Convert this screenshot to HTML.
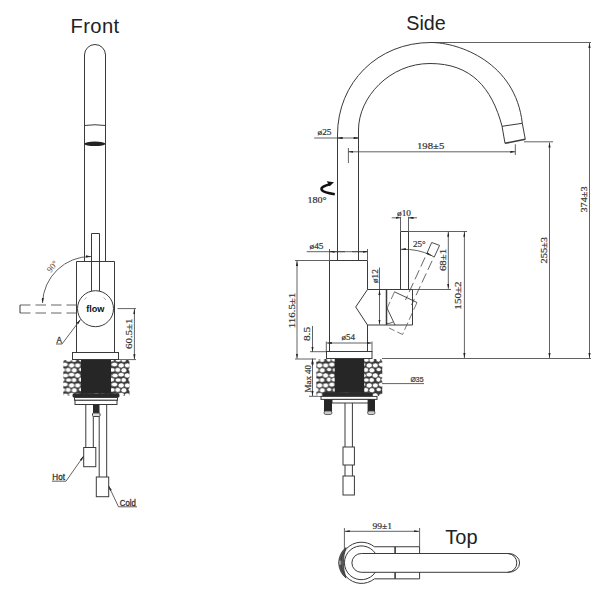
<!DOCTYPE html>
<html><head><meta charset="utf-8">
<style>
html,body{margin:0;padding:0;background:#fff;width:614px;height:600px;overflow:hidden}
svg{position:absolute;left:0;top:0;display:block}
.t{font-family:"Liberation Sans",sans-serif;fill:#222}
.d{font-family:"Liberation Serif",serif;fill:#3a3a3a;font-size:9.2px;letter-spacing:0.4px}
.s{font-family:"Liberation Sans",sans-serif;fill:#333;font-size:8.3px}
</style></head><body>
<svg width="614" height="600" viewBox="0 0 614 600">
<defs>
<pattern id="stone" patternUnits="userSpaceOnUse" width="24.8" height="20.0" x="0" y="0">
<rect width="24.8" height="20.0" fill="#3a3a3a"/>
<g fill="#fff" stroke="#2a2a2a" stroke-width="0.5">
<ellipse cx="-0.3" cy="0.0" rx="2.7" ry="2.3"/>
<ellipse cx="-0.3" cy="20.0" rx="2.7" ry="2.3"/>
<ellipse cx="24.5" cy="0.0" rx="2.7" ry="2.3"/>
<ellipse cx="24.5" cy="20.0" rx="2.7" ry="2.3"/>
<ellipse cx="6.4" cy="-0.4" rx="2.4" ry="2.4"/>
<ellipse cx="6.4" cy="19.6" rx="2.4" ry="2.4"/>
<ellipse cx="12.1" cy="-0.3" rx="3.2" ry="2.2"/>
<ellipse cx="12.1" cy="19.7" rx="3.2" ry="2.2"/>
<ellipse cx="19.0" cy="-0.0" rx="2.9" ry="2.0"/>
<ellipse cx="19.0" cy="20.0" rx="2.9" ry="2.0"/>
<ellipse cx="3.3" cy="5.4" rx="2.8" ry="2.3"/>
<ellipse cx="28.1" cy="5.4" rx="2.8" ry="2.3"/>
<ellipse cx="9.5" cy="4.6" rx="3.0" ry="2.3"/>
<ellipse cx="15.3" cy="4.5" rx="3.1" ry="2.2"/>
<ellipse cx="-2.8" cy="5.4" rx="3.0" ry="2.5"/>
<ellipse cx="22.0" cy="5.4" rx="3.0" ry="2.5"/>
<ellipse cx="-0.1" cy="10.3" rx="2.8" ry="2.5"/>
<ellipse cx="24.7" cy="10.3" rx="2.8" ry="2.5"/>
<ellipse cx="6.7" cy="9.6" rx="2.5" ry="2.0"/>
<ellipse cx="13.0" cy="9.9" rx="2.9" ry="2.1"/>
<ellipse cx="18.6" cy="9.9" rx="2.7" ry="2.3"/>
<ellipse cx="3.2" cy="15.4" rx="2.9" ry="2.5"/>
<ellipse cx="28.0" cy="15.4" rx="2.9" ry="2.5"/>
<ellipse cx="9.7" cy="15.5" rx="2.9" ry="2.0"/>
<ellipse cx="15.9" cy="15.5" rx="3.1" ry="2.2"/>
<ellipse cx="-2.8" cy="14.7" rx="3.1" ry="2.2"/>
<ellipse cx="22.0" cy="14.7" rx="3.1" ry="2.2"/>
</g>
</pattern>
<marker id="ar" viewBox="0 0 5 2.2" refX="5" refY="1.1" markerWidth="5" markerHeight="2.2" orient="auto-start-reverse" markerUnits="userSpaceOnUse"><path d="M0,0 L5,1.1 L0,2.2 z" fill="#222"/></marker>
</defs>

<g fill="none" stroke="#3a3a3a" stroke-width="1">
<!-- ================= FRONT ================= -->
<!-- spout tube -->
<path d="M84.5,261.5 V55 A10.5,10.5 0 0 1 105.5,55 V261.5"/>
<path d="M84.5,125.5 Q95,124 105.5,125.5"/>
<ellipse cx="94.85" cy="143.8" rx="10.5" ry="2.3" fill="#222" stroke="none"/>
<!-- lever -->
<path d="M91.5,291.5 V233.5 H99.5 V291.5"/>
<!-- body -->
<path d="M76.5,352.5 V261.5 H114.5 V352.5"/>
<circle cx="95.5" cy="308.7" r="18" fill="#fff"/>
<!-- dashed lever -->
<path d="M20,305 H76.5 M20,313 H76.5" stroke-dasharray="10.5 5" stroke="#666"/>
<path d="M20,305 V313"/>
<!-- 90 arc -->
<path d="M42.5,303 A48,48 0 0 1 91,256.5" stroke-width="0.8" marker-start="url(#ar)" marker-end="url(#ar)"/>
<!-- A leader -->
<path d="M56,344 H62 L80.5,319.5" stroke-width="0.8" marker-end="url(#ar)"/>
<!-- 60.5 dim -->
<path d="M117.5,308.6 H136 M119,359.6 H136" stroke-width="0.8"/>
<path d="M134.4,309 V359.2" stroke-width="0.8" marker-start="url(#ar)" marker-end="url(#ar)"/>
<!-- base plate -->
<rect x="72.5" y="352.5" width="46" height="7" fill="#fff"/>
<!-- stone -->
<rect x="63.3" y="360" width="66.2" height="36" fill="url(#stone)" stroke="none"/>
<rect x="81" y="360" width="30" height="33.5" fill="#262626" stroke="none"/>
<!-- washer -->
<rect x="72.5" y="393.5" width="47" height="4" rx="1.5" fill="#2a2a2a" stroke="none"/>
<rect x="74.5" y="397.5" width="43" height="2.8" fill="#fff"/>
<rect x="75" y="400.3" width="42" height="4.2" fill="#fff"/>
<!-- rod -->
<rect x="93" y="404.5" width="6.5" height="9" fill="#2a2a2a" stroke="none"/>
<rect x="92.5" y="413" width="7.5" height="3.5" rx="1" fill="#ddd" stroke="#444"/>
<!-- pipes -->
<path d="M85.8,404.5 V447.5 M93.3,416.5 V447.5 M99.2,416.5 V477 M106.7,404.5 V477"/>
<rect x="83.7" y="447.5" width="12.1" height="19.2" fill="#fff"/>
<rect x="96.3" y="477" width="12.4" height="19.7" fill="#fff"/>
<!-- hot / cold leaders -->
<path d="M52,481.2 H66 L83.7,456" stroke-width="0.8" marker-end="url(#ar)"/>
<path d="M137,506.8 H118.5 L108.7,486" stroke-width="0.8" marker-end="url(#ar)"/>

<!-- ================= SIDE ================= -->
<!-- spout -->
<path d="M337.5,260.5 V135 C337.5,82.4 377.7,42.5 431,42.5 C458.9,42.5 515.4,62.2 522.3,123.3 L525.3,139.3"/>
<path d="M358.5,260.5 V130 C358.5,97.4 389.4,63.5 430,63.5 C471.3,63.5 491.7,87.8 502,126 L505,143.3"/>
<path d="M502,126.3 L522.3,123.3"/>
<path d="M505,143.3 L525.3,139.3" stroke-width="1.6"/>
<!-- top ext + 374 -->
<path d="M431,42.5 H591" stroke-width="0.8"/>
<path d="M589.5,43 V358" stroke-width="0.8" marker-start="url(#ar)" marker-end="url(#ar)"/>
<!-- 255 -->
<path d="M524,141.8 H553" stroke-width="0.8"/>
<path d="M549.5,142.5 V358" stroke-width="0.8" marker-start="url(#ar)" marker-end="url(#ar)"/>
<!-- 198 -->
<path d="M348.4,148 V163 M515.3,144.3 V155" stroke-width="0.8"/>
<path d="M348.4,151.8 H515.3" stroke-width="0.8" marker-start="url(#ar)" marker-end="url(#ar)"/>
<!-- o25 -->
<path d="M314.2,138 H358.5" stroke-width="0.8"/>
<path d="M343,138 H337.5" stroke-width="0.8" marker-end="url(#ar)"/><path d="M353,138 H358.5" stroke-width="0.8" marker-end="url(#ar)"/>
<!-- body -->
<path d="M329.5,351.5 V260.5 H367.5 V289.5 L355.7,307 L367.5,325 V351.5"/>
<!-- o45 -->
<path d="M329.5,249 V260 M367.5,249 V260" stroke-width="0.8"/>
<path d="M306.7,251.7 H367.5" stroke-width="0.8"/>
<path d="M345,251.7 H329.5" stroke-width="0.8" marker-end="url(#ar)"/><path d="M352,251.7 H367.5" stroke-width="0.8" marker-end="url(#ar)"/>
<!-- lever -->
<path d="M400.5,289.5 V231.5 H408.5 V289.5"/>
<!-- o10 -->
<path d="M400.5,216.8 V231 M408.5,216.8 V231" stroke-width="0.8"/>
<path d="M391.7,217.8 H400.5" stroke-width="0.8" marker-end="url(#ar)"/><path d="M417,217.8 H408.5" stroke-width="0.8" marker-end="url(#ar)"/>
<!-- 68 / 150 -->
<path d="M408.5,231.5 H467 M412.5,289.5 H451" stroke-width="0.8"/>
<path d="M448.3,231.8 V288.8" stroke-width="0.8" marker-start="url(#ar)" marker-end="url(#ar)"/>
<path d="M464.4,231.8 V358" stroke-width="0.8" marker-start="url(#ar)" marker-end="url(#ar)"/>
<!-- 25 deg arc -->
<path d="M400.8,249.3 Q419,248.8 431,255.5" stroke-width="0.8" marker-start="url(#ar)" marker-end="url(#ar)"/>
<!-- tilted lever -->
<path d="M427.1,252.9 L431.7,242.5 L439.6,245.4 L434.2,257.1 Z" stroke-width="0.9"/>
<path d="M425,257.5 L405.5,300 M432.1,260.8 L411.5,305" stroke-dasharray="10 4" stroke-width="0.9" stroke="#555"/>
<!-- handle housing -->
<path d="M367.5,289.5 H412.5 V325 H367.5"/>
<path d="M386.5,289.5 V325" stroke-width="1.5"/>
<path d="M379.5,290 V324.5" stroke-width="0.8" marker-start="url(#ar)" marker-end="url(#ar)"/>
<path d="M379.5,267.5 V289.5" stroke-width="0.8"/>
<path d="M386.5,307 L395,325 M394.5,291.8 L417,302.5" stroke-width="0.9"/>
<path d="M417,302.5 L402.5,334.5 L389,328 M394.5,291.8 L386.5,309.5" stroke-width="0.8" stroke-dasharray="8 3" stroke="#555"/>
<path d="M386.5,323.5 Q390,323.8 393,322" stroke-width="0.8"/>
<!-- o54 -->
<path d="M326.3,341.5 V351.7 M372,341.5 V351.7" stroke-width="0.8"/>
<path d="M326.8,343 H371.5" stroke-width="0.8" marker-start="url(#ar)" marker-end="url(#ar)"/>
<!-- 116.5 -->
<path d="M295,260.5 H329.5 M295,359 H316" stroke-width="0.8"/>
<path d="M297,261 V358.6" stroke-width="0.8" marker-start="url(#ar)" marker-end="url(#ar)"/>
<!-- 8.5 -->
<path d="M310,351.7 H326.3" stroke-width="0.8"/>
<path d="M312.5,326 V351.7" stroke-width="0.8" marker-end="url(#ar)"/><path d="M312.5,366 V358.6" stroke-width="0.8" marker-end="url(#ar)"/>
<!-- max 40 -->
<path d="M312.5,359.5 V396" stroke-width="0.8" marker-start="url(#ar)" marker-end="url(#ar)"/>
<path d="M309,396.3 H321" stroke-width="0.8"/>
<!-- base plate -->
<rect x="326.5" y="351.5" width="45.5" height="7" fill="#fff"/>
<!-- ground line -->
<path d="M382,358.5 H591" stroke-width="0.8"/>
<!-- stone -->
<rect x="316.3" y="359" width="66" height="37" fill="url(#stone)" stroke="none"/>
<rect x="334.7" y="359" width="29.5" height="33.5" fill="#262626" stroke="none"/>
<rect x="322.5" y="392.5" width="50" height="4.2" rx="1.5" fill="#2a2a2a" stroke="none"/>
<rect x="321" y="396.4" width="56" height="3" fill="#fff"/>
<rect x="332" y="399.4" width="38" height="3.6" fill="#fff"/>
<!-- bolts -->
<rect x="324" y="399.4" width="8" height="13" fill="#262626" stroke="none"/>
<rect x="367.6" y="399.4" width="7.4" height="13" fill="#262626" stroke="none"/>
<rect x="324" y="411" width="8" height="3.5" rx="1.7" fill="#ccc" stroke="#444" stroke-width="0.8"/>
<rect x="367.6" y="411" width="7.4" height="3.5" rx="1.7" fill="#ccc" stroke="#444" stroke-width="0.8"/>
<!-- pipe -->
<path d="M345,403 V476 M352.4,403 V476"/>
<rect x="343" y="447" width="11.4" height="18" fill="#fff"/>
<rect x="343" y="476" width="11.4" height="19" fill="#fff"/>
<!-- o35 -->
<path d="M382,383.6 H424" stroke-width="0.8"/>

<!-- ================= TOP ================= -->
<path d="M344.4,528 V549.7 M419.6,528 V546.75" stroke-width="0.8"/>
<path d="M344.8,531.3 H419.1" stroke-width="0.8" marker-start="url(#ar)" marker-end="url(#ar)"/>
<!-- base disc -->
<path d="M346,547.5 A19.75,19.75 0 0 0 346,578.1 A47.3,47.3 0 0 1 346,547.5 Z" fill="#5a5a5a" stroke="#333" stroke-width="0.8"/>
<path d="M341.2,560.3 h-2 v4.8 h2" fill="#fff" stroke="#333" stroke-width="0.6"/>
<path d="M374.4,546.75 A20.6,20.6 0 1 0 374.4,578.85"/>
<path d="M375.4,553.4 A16.9,16.9 0 1 0 375.4,572.2"/>
<!-- lever box -->
<path d="M374.4,546.75 H419.6 V553.4 M374.4,578.85 H419.6 V572.2"/>
<path d="M395.1,546.75 V553.4 M395.1,572.2 V578.85" stroke-width="1.6"/>
<!-- spout -->
<path d="M508.5,553.5 H361.3 A9.4,9.4 0 0 0 361.3,572.3 H508.5"/>
<path d="M508.5,553.5 A11.1,9.4 0 0 1 508.5,572.3" />
<path d="M507.5,553.5 A9.3,9.4 0 0 1 507.5,572.3" />
</g>

<!-- flow logo -->
<text x="86.2" y="312.3" style="font-family:'Liberation Sans',sans-serif;font-weight:bold;font-size:9px" textLength="18.3" lengthAdjust="spacingAndGlyphs" fill="#111">flow</text>
<path d="M84.5,299.5 L86.5,297.5 M103.5,297.5 L106,299.8" stroke="#aaa" stroke-width="1"/>

<!-- titles -->
<text class="t" x="70.6" y="32.6" style="font-size:20.2px;letter-spacing:0.35px">Front</text>
<text class="t" x="406.3" y="29.6" style="font-size:19.7px">Side</text>
<text class="t" x="445.3" y="543.8" style="font-size:20px">Top</text>

<!-- dims -->
<text class="d" transform="translate(52.3,266.3) rotate(-52)" y="3" text-anchor="middle" style="font-size:8.6px;letter-spacing:0.2px">90°</text>
<text x="317.50" y="135.00" style="font-family:'Liberation Serif';font-size:9.00px" textLength="14.03" lengthAdjust="spacingAndGlyphs" fill="#333" stroke="#333" stroke-width="0.2">ø25</text>
<text x="417.00" y="149.00" style="font-family:'Liberation Serif';font-size:9.00px" textLength="27.24" lengthAdjust="spacingAndGlyphs" fill="#333" stroke="#333" stroke-width="0.2">198±5</text>
<text x="307.50" y="202.50" style="font-family:'Liberation Serif';font-size:9.00px" textLength="19.11" lengthAdjust="spacingAndGlyphs" fill="#333" stroke="#333" stroke-width="0.2">180°</text>
<text x="309.50" y="249.00" style="font-family:'Liberation Serif';font-size:9.00px" textLength="14.03" lengthAdjust="spacingAndGlyphs" fill="#333" stroke="#333" stroke-width="0.2">ø45</text>
<text x="397.00" y="216.00" style="font-family:'Liberation Serif';font-size:9.00px" textLength="14.05" lengthAdjust="spacingAndGlyphs" fill="#333" stroke="#333" stroke-width="0.2">ø10</text>
<text x="413.00" y="246.50" style="font-family:'Liberation Serif';font-size:9.00px" textLength="12.70" lengthAdjust="spacingAndGlyphs" fill="#333" stroke="#333" stroke-width="0.2">25°</text>
<text x="341.50" y="340.00" style="font-family:'Liberation Serif';font-size:9.00px" textLength="13.55" lengthAdjust="spacingAndGlyphs" fill="#333" stroke="#333" stroke-width="0.2">ø54</text>
<text x="410.50" y="382.00" style="font-family:'Liberation Sans';font-size:7.20px" textLength="13.05" lengthAdjust="spacingAndGlyphs" fill="#333" stroke="#333" stroke-width="0.2">Ø35</text>
<text x="372.50" y="529.00" style="font-family:'Liberation Serif';font-size:9.00px" textLength="19.61" lengthAdjust="spacingAndGlyphs" fill="#333" stroke="#333" stroke-width="0.2">99±1</text>
<text x="56.50" y="343.30" style="font-family:'Liberation Sans';font-size:8.30px" textLength="5.40" lengthAdjust="spacingAndGlyphs" fill="#333" stroke="#333" stroke-width="0.3">A</text>
<text x="52.30" y="480.40" style="font-family:'Liberation Sans';font-size:8.30px" textLength="12.60" lengthAdjust="spacingAndGlyphs" fill="#333" stroke="#333" stroke-width="0.3">Hot</text>
<text x="119.80" y="506.00" style="font-family:'Liberation Sans';font-size:8.30px" textLength="16.00" lengthAdjust="spacingAndGlyphs" fill="#333" stroke="#333" stroke-width="0.3">Cold</text>
<text transform="translate(128.65,333.75) rotate(-90)" x="0" y="3.35" text-anchor="middle" style="font-family:'Liberation Serif';font-size:9.00px" textLength="30.71" lengthAdjust="spacingAndGlyphs" fill="#333" stroke="#333" stroke-width="0.2">60.5±1</text>
<text transform="translate(443.43,260.00) rotate(-90)" x="0" y="2.82" text-anchor="middle" style="font-family:'Liberation Serif';font-size:9.00px" textLength="22.22" lengthAdjust="spacingAndGlyphs" fill="#333" stroke="#333" stroke-width="0.2">68±1</text>
<text transform="translate(458.43,295.50) rotate(-90)" x="0" y="2.82" text-anchor="middle" style="font-family:'Liberation Serif';font-size:9.00px" textLength="28.35" lengthAdjust="spacingAndGlyphs" fill="#333" stroke="#333" stroke-width="0.2">150±2</text>
<text transform="translate(544.12,250.25) rotate(-90)" x="0" y="2.88" text-anchor="middle" style="font-family:'Liberation Serif';font-size:9.00px" textLength="26.58" lengthAdjust="spacingAndGlyphs" fill="#333" stroke="#333" stroke-width="0.2">255±3</text>
<text transform="translate(583.35,199.50) rotate(-90)" x="0" y="3.15" text-anchor="middle" style="font-family:'Liberation Serif';font-size:9.00px" textLength="26.08" lengthAdjust="spacingAndGlyphs" fill="#333" stroke="#333" stroke-width="0.2">374±3</text>
<text transform="translate(374.38,276.12) rotate(-90)" x="0" y="3.12" text-anchor="middle" style="font-family:'Liberation Serif';font-size:9.00px" textLength="13.85" lengthAdjust="spacingAndGlyphs" fill="#333" stroke="#333" stroke-width="0.2">ø12</text>
<text transform="translate(291.60,310.50) rotate(-90)" x="0" y="2.90" text-anchor="middle" style="font-family:'Liberation Serif';font-size:9.00px" textLength="35.45" lengthAdjust="spacingAndGlyphs" fill="#333" stroke="#333" stroke-width="0.2">116.5±1</text>
<text transform="translate(307.70,334.00) rotate(-90)" x="0" y="2.30" text-anchor="middle" style="font-family:'Liberation Serif';font-size:9.00px" textLength="14.20" lengthAdjust="spacingAndGlyphs" fill="#333" stroke="#333" stroke-width="0.2">8.5</text>
<text transform="translate(307.75,378.75) rotate(-90)" x="0" y="2.75" text-anchor="middle" style="font-family:'Liberation Serif';font-size:9.00px" textLength="27.54" lengthAdjust="spacingAndGlyphs" fill="#333" stroke="#333" stroke-width="0.2">Max 40</text>

<!-- rotation arrow -->
<path d="M330,184.3 C324.5,185.6 320.8,187.6 321.6,189.6 C322.8,192 329,193.4 334.8,194.2" fill="none" stroke="#111" stroke-width="2.5"/>
<path d="M326.8,181.2 L334,182.3 L329.6,186.2 Z" fill="#111"/>
</svg>
</body></html>
